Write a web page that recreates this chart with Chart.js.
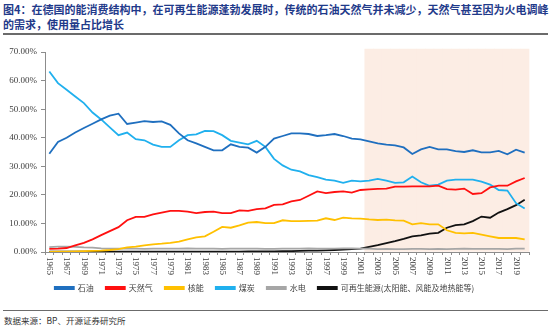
<!DOCTYPE html>
<html>
<head>
<meta charset="utf-8">
<script src="https://cdn.jsdelivr.net/npm/chart.js@4.4.0/dist/chart.umd.min.js"></script>
<style>
body { margin: 0; background: #fff; }
#page { position: relative; width: 550px; height: 329px; overflow: hidden; }
#title { position: absolute; left: 3px; top: 2px; width: 548px; font-family: "Noto Sans CJK SC"; font-weight: bold; font-size: 11px; line-height: 15px; color: #1f3a8a; white-space: nowrap; }
#rule1 { position: absolute; left: 3px; top: 33px; width: 545px; height: 2px; background: #6b6b6b; }
#box { position: absolute; left: 0; top: 36px; width: 550px; height: 272px; }
#rule2 { position: absolute; left: 3px; top: 310px; width: 545px; height: 1px; background: #6b6b6b; }
#source { position: absolute; left: 4px; top: 314px; font-family: "Noto Sans CJK SC"; font-size: 8.5px; color: #333; }
</style>
</head>
<body>
<div id="page">
  <div id="title">图4：在德国的能消费结构中，在可再生能源蓬勃发展时，传统的石油天然气并未减少，天然气甚至因为火电调峰<br>的需求，使用量占比增长</div>
  <div id="rule1"></div>
  <div id="box"><canvas id="chart" width="550" height="272"></canvas></div>
  <div id="rule2"></div>
  <div id="source">数据来源：BP、开源证券研究所</div>
</div>
<script>
var years = [];
for (var y = 1965; y <= 2020; y++) years.push(String(y));

// shares of primary energy consumption, %
var oil = [34.4, 38.5, 40.0, 41.8, 43.4, 44.9, 46.4, 47.7, 48.4, 44.8,
           45.3, 45.8, 45.5, 45.7, 44.5, 41.5, 39.1, 38.0, 36.8, 35.6,
           35.6, 37.7, 36.8, 36.5, 34.8, 36.8, 39.7, 40.6, 41.5, 41.5,
           41.3, 40.6, 40.9, 41.3, 40.6, 39.7, 39.4, 38.7, 38.0, 37.6,
           37.3, 36.6, 34.3, 35.9, 36.8, 35.9, 35.9, 35.3, 35.0, 35.6,
           34.9, 34.9, 35.4, 34.2, 35.8, 34.8];
var gas = [1.1, 1.2, 1.4, 2.3, 3.2, 4.4, 5.9, 7.3, 8.7, 11.1,
           12.3, 12.3, 13.2, 13.8, 14.4, 14.4, 14.1, 13.6, 14.0, 14.1,
           13.6, 13.6, 14.6, 14.4, 15.0, 15.3, 16.5, 16.7, 17.7, 18.2,
           19.7, 21.2, 20.6, 21.0, 21.2, 20.8, 21.7, 21.9, 22.1, 22.2,
           22.9, 22.9, 23.0, 23.0, 23.0, 23.2, 22.0, 21.8, 22.2, 20.3,
           20.6, 22.6, 23.2, 23.2, 24.7, 25.9];
var nuclear = [0.0, 0.1, 0.1, 0.2, 0.3, 0.4, 0.5, 0.7, 1.0, 1.6,
               1.9, 2.3, 2.7, 2.9, 3.2, 3.6, 4.4, 5.1, 5.5, 7.1,
               8.8, 8.5, 9.3, 10.3, 10.5, 10.1, 10.1, 11.1, 10.8, 10.8,
               10.9, 11.0, 11.8, 11.2, 12.0, 11.8, 11.7, 11.4, 11.2, 11.3,
               11.1, 11.0, 9.7, 10.1, 9.7, 9.7, 7.6, 6.7, 6.5, 6.7,
               6.1, 5.5, 4.9, 4.9, 4.9, 4.4];
var coal = [63.2, 59.1, 56.8, 54.4, 52.1, 48.8, 46.4, 43.6, 40.9, 41.8,
            39.5, 39.1, 37.6, 36.8, 36.8, 39.1, 40.9, 41.2, 42.4, 42.3,
            40.9, 38.9, 38.3, 37.7, 38.9, 36.8, 32.6, 30.3, 28.8, 28.2,
            26.9, 26.2, 25.3, 25.0, 24.2, 25.0, 24.7, 25.0, 25.6, 25.0,
            24.2, 24.4, 26.4, 24.4, 23.2, 23.6, 25.0, 25.3, 25.3, 25.3,
            24.6, 23.6, 21.7, 21.5, 17.1, 15.2];
var hydro = [1.7, 1.9, 1.9, 1.8, 1.6, 1.5, 1.3, 1.2, 1.2, 1.2,
             1.2, 1.1, 1.2, 1.2, 1.2, 1.2, 1.3, 1.2, 1.2, 1.2,
             1.1, 1.2, 1.2, 1.2, 1.2, 1.1, 1.1, 1.2, 1.2, 1.2,
             1.3, 1.2, 1.2, 1.2, 1.3, 1.3, 1.2, 1.2, 1.0, 1.1,
             1.0, 1.0, 1.1, 1.1, 1.0, 1.1, 1.0, 1.1, 1.2, 1.1,
             1.1, 1.1, 1.1, 1.0, 1.2, 1.2];
var renew = [0.1, 0.1, 0.1, 0.1, 0.1, 0.1, 0.1, 0.1, 0.1, 0.1,
             0.1, 0.1, 0.1, 0.1, 0.1, 0.1, 0.1, 0.1, 0.1, 0.1,
             0.1, 0.1, 0.1, 0.2, 0.2, 0.2, 0.2, 0.3, 0.3, 0.4,
             0.5, 0.5, 0.6, 0.7, 0.8, 1.0, 1.2, 1.8, 2.4, 3.1,
             3.8, 4.6, 5.5, 5.8, 6.4, 6.7, 8.5, 9.4, 9.7, 10.8,
             12.4, 12.0, 13.8, 15.0, 16.4, 18.3];
// shaded band for 2002 onwards
var band = years.map(function (yr) { return Number(yr) >= 2002 ? 71 : null; });

var serif = "'Liberation Serif', 'Times New Roman', serif";

function line(label, data, color) {
    return {
        type: 'line',
        label: label,
        data: data,
        borderColor: color,
        backgroundColor: color,
        borderWidth: 1.8,
        pointRadius: 0,
        tension: 0,
        fill: false,
        order: 1
    };
}

// x labels in the picture read top to bottom, so draw them by hand
var xLabels = {
    id: 'xLabels',
    afterDraw: function (chart) {
        var sx = chart.scales.x;
        var c = chart.ctx;
        c.save();
        c.font = '9px ' + serif;
        c.fillStyle = '#404040';
        c.textAlign = 'left';
        c.textBaseline = 'middle';
        for (var i = 0; i < years.length; i++) {
            if ((Number(years[i]) - 1965) % 2 !== 0) continue;
            c.save();
            c.translate(sx.getPixelForValue(i), sx.top + 5);
            c.rotate(Math.PI / 2);
            c.fillText(years[i], 0, 0);
            c.restore();
        }
        c.restore();
    }
};

new Chart(document.getElementById('chart'), {
    data: {
        labels: years,
        datasets: [
            line('石油', oil, '#1f6fbf'),
            line('天然气', gas, '#ff1010'),
            line('核能', nuclear, '#ffc000'),
            line('煤炭', coal, '#20b0ee'),
            line('水电', hydro, '#a6a6a6'),
            line('可再生能源(太阳能、风能及地热能等)', renew, '#111111'),
            {
                type: 'bar',
                label: 'band',
                data: band,
                backgroundColor: '#fcede4',
                borderWidth: 0,
                barPercentage: 1,
                categoryPercentage: 1,
                clip: false,
                order: 10
            }
        ]
    },
    options: {
        responsive: false,
        animation: false,
        layout: { padding: { top: 16, right: 21, bottom: 6, left: 0 } },
        plugins: {
            tooltip: { enabled: false },
            legend: {
                position: 'bottom',
                labels: {
                    filter: function (item) { return item.text !== 'band'; },
                    boxWidth: 19,
                    boxHeight: 2,
                    padding: 12,
                    color: '#404040',
                    font: { family: "'Noto Sans CJK SC'", size: 8 }
                }
            }
        },
        scales: {
            x: {
                offset: true,
                grid: { display: true, drawOnChartArea: false, offset: true, tickLength: 3, color: '#8c8c8c' },
                border: { color: '#8c8c8c' },
                ticks: { display: false },
                afterFit: function (s) { s.height = 20; }
            },
            y: {
                min: 0,
                max: 70,
                ticks: {
                    stepSize: 10,
                    padding: 4,
                    color: '#404040',
                    font: { family: serif, size: 9 },
                    callback: function (v) { return v.toFixed(2) + '%'; }
                },
                grid: { drawOnChartArea: false, tickLength: 4, color: '#8c8c8c' },
                border: { color: '#8c8c8c' },
                afterFit: function (s) { s.width = 45; }
            }
        }
    },
    plugins: [xLabels]
});
</script>
</body>
</html>
